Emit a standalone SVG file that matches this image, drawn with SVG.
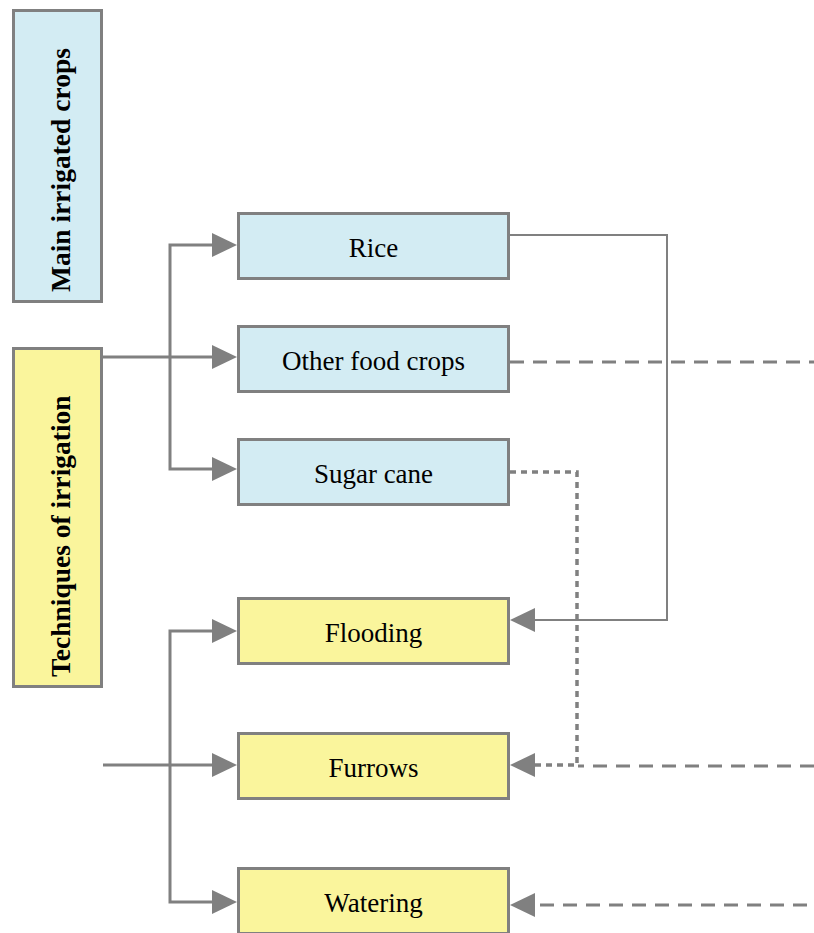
<svg xmlns="http://www.w3.org/2000/svg" width="814" height="933" viewBox="0 0 814 933">
<style>
.blue{fill:#d3ecf3;stroke:#808080;stroke-width:3}
.yel{fill:#faf59c;stroke:#808080;stroke-width:3}
.lbl{font-family:"Liberation Serif","Times New Roman",serif;font-size:27px;fill:#000;text-anchor:middle}
.vt{font-family:"Liberation Serif","Times New Roman",serif;font-size:27.5px;font-weight:bold;fill:#000;text-anchor:start}
.c{fill:none;stroke:#808080;stroke-width:3}
.thin{fill:none;stroke:#808080;stroke-width:2}
.dash{fill:none;stroke:#808080;stroke-width:3;stroke-dasharray:14 9}
.dot{fill:none;stroke:#808080;stroke-width:3.5;stroke-dasharray:6 5}
</style>
<defs>
<marker id="ah" viewBox="0 0 25 24" refX="0" refY="12" markerWidth="25" markerHeight="24" markerUnits="userSpaceOnUse" orient="auto">
<path d="M0,0 L25,12 L0,24 z" fill="#808080"/>
</marker>
</defs>
<rect width="814" height="933" fill="#fff"/>
<g id="main-crops">
<rect class="blue" x="13.5" y="10.5" width="88" height="291"/>
<text class="vt" transform="translate(70,292) rotate(-90)">Main irrigated crops</text>
</g>
<g id="techniques">
<rect class="yel" x="13.5" y="348.5" width="88" height="338"/>
<text class="vt" transform="translate(70,677) rotate(-90)">Techniques of irrigation</text>
</g>
<g id="rice">
<rect class="blue" x="238.5" y="213.5" width="270" height="65"/>
<text class="lbl" x="373.5" y="257">Rice</text>
</g>
<g id="other-food-crops">
<rect class="blue" x="238.5" y="326.5" width="270" height="65"/>
<text class="lbl" x="373.5" y="370">Other food crops</text>
</g>
<g id="sugar-cane">
<rect class="blue" x="238.5" y="439.5" width="270" height="65"/>
<text class="lbl" x="373.5" y="483">Sugar cane</text>
</g>
<g id="flooding">
<rect class="yel" x="238.5" y="598.5" width="270" height="65"/>
<text class="lbl" x="373.5" y="642">Flooding</text>
</g>
<g id="furrows">
<rect class="yel" x="238.5" y="733.5" width="270" height="65"/>
<text class="lbl" x="373.5" y="777">Furrows</text>
</g>
<g id="watering">
<rect class="yel" x="238.5" y="868.5" width="270" height="65"/>
<text class="lbl" x="373.5" y="912">Watering</text>
</g>
<g id="connectors">
<path class="c" d="M103,357 H212" marker-end="url(#ah)"/>
<path class="c" d="M170,357 V245 H212" marker-end="url(#ah)"/>
<path class="c" d="M170,357 V469 H212" marker-end="url(#ah)"/>
<path class="c" d="M103,765 H212" marker-end="url(#ah)"/>
<path class="c" d="M170,765 V631 H212" marker-end="url(#ah)"/>
<path class="c" d="M170,765 V902 H212" marker-end="url(#ah)"/>
<path class="thin" d="M510,235 H667 V620 H535" marker-end="url(#ah)"/>
<path class="dash" d="M510,362 H814"/>
<path class="dot" d="M510,472 H577 V765 H535" marker-end="url(#ah)"/>
<path class="dash" d="M814,766 H578"/>
<path class="dash" d="M807,905 H535" marker-end="url(#ah)"/>
</g>
</svg>
